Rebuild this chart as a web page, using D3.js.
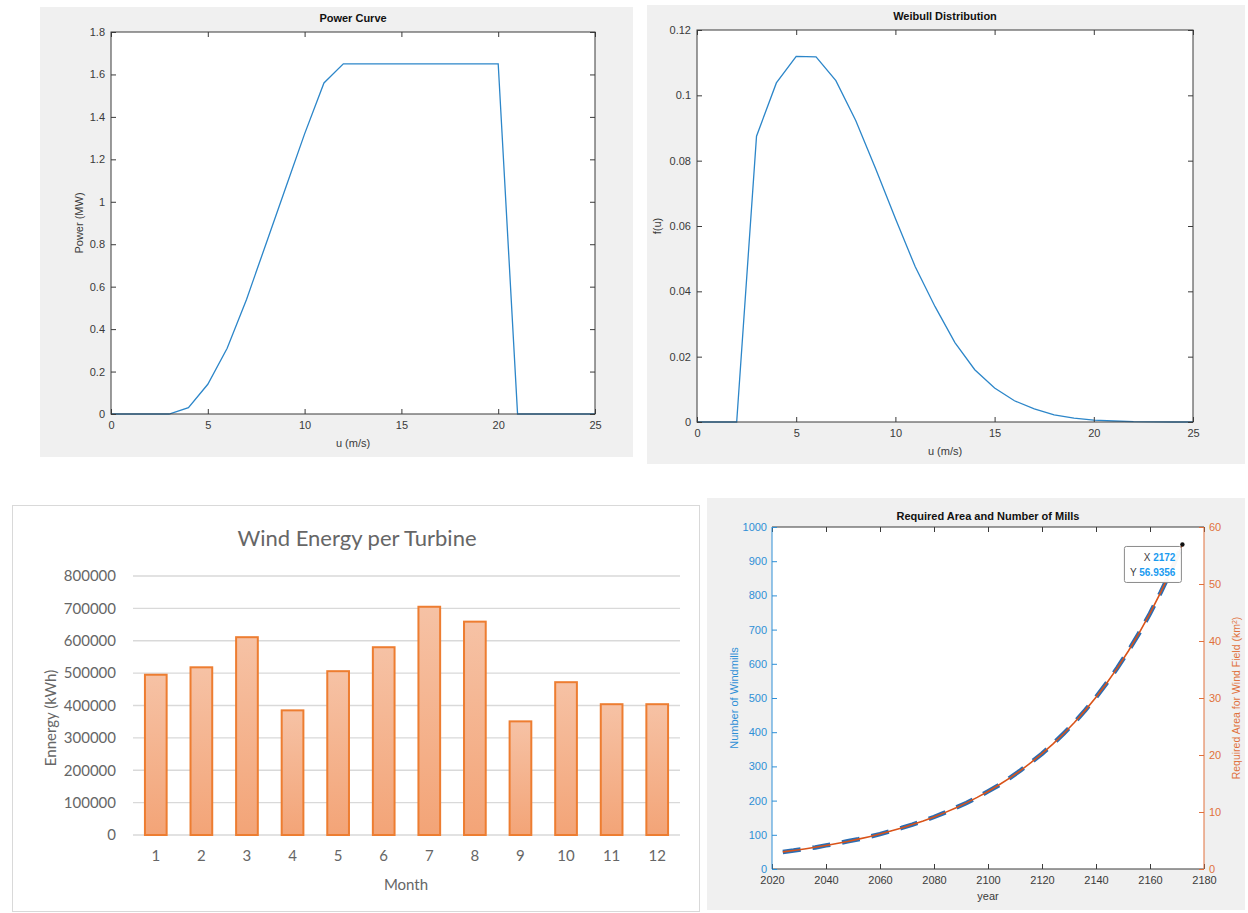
<!DOCTYPE html>
<html><head><meta charset="utf-8">
<script src="https://cdn.jsdelivr.net/npm/d3@7"></script>
<style>body{margin:0;background:#fff}svg{display:block}</style>
</head><body>
<svg id="c" width="1248" height="913"></svg>
<script>
// ---------- DATA ----------
const windSpeed = [0,1,2,3,4,5,6,7,8,9,10,11,12,13,14,15,16,17,18,19,20,21,22,23,24,25];
const powerMW   = [0,0,0,0,0.03,0.14,0.31,0.54,0.8,1.06,1.32,1.56,1.65,1.65,1.65,1.65,1.65,1.65,1.65,1.65,1.65,0,0,0,0,0];
const weibullF  = [0,0,0,0.0875,0.1038,0.1119,0.1118,0.1045,0.0923,0.0776,0.0623,0.0475,0.0353,0.0243,0.016,0.0104,0.0065,0.004,0.0022,0.0012,0.0006,0.0003,0.0001,0.00005,0,0];
const powerTicksX = [0,5,10,15,20,25];
const powerTicksY = [0,0.2,0.4,0.6,0.8,1,1.2,1.4,1.6,1.8];
const weibullTicksY = [0,0.02,0.04,0.06,0.08,0.1,0.12];

const months = [1,2,3,4,5,6,7,8,9,10,11,12];
const energyKWh = [495000,518000,611000,385000,506000,580000,705000,659000,351000,472000,404000,404000];
const energyTicks = [0,100000,200000,300000,400000,500000,600000,700000,800000];

const years = [2024,2028,2032,2036,2040,2044,2048,2052,2056,2060,2064,2068,2072,2076,2080,2084,2088,2092,2096,2100,2104,2108,2112,2116,2120,2124,2128,2132,2136,2140,2144,2148,2152,2156,2160,2164,2168,2172];
const windmills = [50,54,59,63,69,74,81,87,94,102,111,120,130,141,152,165,179,193,209,227,245,266,288,312,337,365,396,428,464,502,544,589,638,690,747,809,876,949];
const areaKm2 = [3.00,3.25,3.52,3.81,4.12,4.47,4.83,5.24,5.67,6.14,6.65,7.20,7.79,8.44,9.14,9.89,10.71,11.60,12.56,13.60,14.73,15.94,17.26,18.69,20.24,21.92,23.73,25.70,27.83,30.13,32.63,35.33,38.25,41.42,44.85,48.56,52.58,56.9356];
const yearTicks = [2020,2040,2060,2080,2100,2120,2140,2160,2180];
const millTicks = [0,100,200,300,400,500,600,700,800,900,1000];
const areaTicks = [0,10,20,30,40,50,60];
const tipX = 2172, tipY = 56.9356;

// ---------- STYLE ----------
const svg = d3.select("#c");
const MF = "'Liberation Sans', Arial, sans-serif";
const EF = "Lato, 'Open Sans', sans-serif";
const axCol = "#3a3a3a";
const lineBlue = "#2c86c9";
const mBlue = "#2e8fd6";
const mOrange = "#e0703c";
const fmt = v => String(+v.toFixed(4));

function styleAxis(g, color){
  g.select(".domain").remove();
  g.selectAll("line").attr("stroke", color).attr("stroke-width",1);
  g.selectAll("text").attr("fill", color).style("font-family", MF).style("font-size","11px");
}

function matlabPanel(cfg){
  const {bg, box, xDom, yDom, xTicks, yTicks, xs, ys, title, xlabel, ylabel, ylabelX} = cfg;
  svg.append("rect").attr("x",bg[0]).attr("y",bg[1]).attr("width",bg[2]-bg[0]).attr("height",bg[3]-bg[1]).attr("fill","#f0f0f0");
  const x = d3.scaleLinear().domain(xDom).range([box[0],box[2]]);
  const y = d3.scaleLinear().domain(yDom).range([box[3],box[1]]);
  svg.append("rect").attr("x",box[0]).attr("y",box[1]).attr("width",box[2]-box[0]).attr("height",box[3]-box[1]).attr("fill","#fff");
  const line = d3.line().x((d,i)=>x(xs[i])).y(d=>y(d));
  svg.append("path").datum(ys).attr("d",line).attr("fill","none").attr("stroke",lineBlue).attr("stroke-width",1.3);
  styleAxis(svg.append("g").attr("transform",`translate(0,${box[3]})`).call(d3.axisBottom(x).tickValues(xTicks).tickFormat(fmt).tickSizeInner(-5).tickSizeOuter(0).tickPadding(7)), axCol);
  styleAxis(svg.append("g").attr("transform",`translate(0,${box[1]})`).call(d3.axisTop(x).tickValues(xTicks).tickFormat("").tickSizeInner(-5).tickSizeOuter(0)), axCol);
  styleAxis(svg.append("g").attr("transform",`translate(${box[0]},0)`).call(d3.axisLeft(y).tickValues(yTicks).tickFormat(fmt).tickSizeInner(-5).tickSizeOuter(0).tickPadding(6)), axCol);
  styleAxis(svg.append("g").attr("transform",`translate(${box[2]},0)`).call(d3.axisRight(y).tickValues(yTicks).tickFormat("").tickSizeInner(-5).tickSizeOuter(0)), axCol);
  svg.append("rect").attr("x",box[0]).attr("y",box[1]).attr("width",box[2]-box[0]).attr("height",box[3]-box[1]).attr("fill","none").attr("stroke",axCol).attr("stroke-width",1);
  const cx = (box[0]+box[2])/2;
  svg.append("text").attr("x",cx).attr("y",box[1]-10).attr("text-anchor","middle").style("font-family",MF).style("font-size","11px").style("font-weight","bold").attr("fill","#111").text(title);
  svg.append("text").attr("x",cx).attr("y",box[3]+33).attr("text-anchor","middle").style("font-family",MF).style("font-size","11px").attr("fill",axCol).text(xlabel);
  svg.append("text").attr("transform",`translate(${ylabelX},${(box[1]+box[3])/2}) rotate(-90)`).attr("text-anchor","middle").style("font-family",MF).style("font-size","11px").attr("fill",axCol).text(ylabel);
}

// Panel 1: Power curve
matlabPanel({bg:[40,7,633,457], box:[111,32,595,414], xDom:[0,25], yDom:[0,1.8],
  xTicks:powerTicksX, yTicks:powerTicksY, xs:windSpeed, ys:powerMW,
  title:"Power Curve", xlabel:"u (m/s)", ylabel:"Power (MW)", ylabelX:83});

// Panel 2: Weibull
matlabPanel({bg:[647,5,1245,464], box:[697,30,1193,422], xDom:[0,25], yDom:[0,0.12],
  xTicks:powerTicksX, yTicks:weibullTicksY, xs:windSpeed, ys:weibullF,
  title:"Weibull Distribution", xlabel:"u (m/s)", ylabel:"f(u)", ylabelX:661});

// ---------- Panel 3: Excel bar chart ----------
(function(){
  svg.append("rect").attr("x",12.5).attr("y",505.5).attr("width",687).attr("height",406).attr("fill","#fff").attr("stroke","#d9d9d9");
  const defs = svg.append("defs");
  const gr = defs.append("linearGradient").attr("id","barGrad").attr("x1",0).attr("y1",0).attr("x2",0).attr("y2",1).attr("gradientUnits","objectBoundingBox");
  gr.append("stop").attr("offset","0%").attr("stop-color","#f6c2a5");
  gr.append("stop").attr("offset","100%").attr("stop-color","#f3a477");
  const x = d3.scaleBand().domain(months).range([133,680]).paddingInner(0.48).paddingOuter(0.24);
  const y = d3.scaleLinear().domain([0,800000]).range([835,576]);
  const grid = svg.append("g");
  grid.selectAll("line").data(energyTicks).join("line")
    .attr("x1",133).attr("x2",680).attr("y1",d=>y(d)).attr("y2",d=>y(d))
    .attr("stroke","#d9d9d9").attr("stroke-width",1.3);
  const ga = svg.append("g").attr("transform","translate(133,0)").call(d3.axisLeft(y).tickValues(energyTicks).tickSize(0).tickPadding(17).tickFormat(d3.format("d")));
  ga.select(".domain").remove();
  ga.selectAll("text").attr("fill","#666").style("font-family",EF).style("font-size","15px");
  svg.append("g").selectAll("rect").data(energyKWh).join("rect")
    .attr("x",(d,i)=>x(months[i])+1).attr("width",x.bandwidth()-2)
    .attr("y",d=>y(d)).attr("height",d=>y(0)-y(d))
    .attr("fill","url(#barGrad)").attr("stroke","#ed7d31").attr("stroke-width",2);
  const gb = svg.append("g").attr("transform","translate(0,835)").call(d3.axisBottom(x).tickSize(0).tickPadding(15));
  gb.select(".domain").remove();
  gb.selectAll("text").attr("fill","#666").style("font-family",EF).style("font-size","15px");
  svg.append("text").attr("x",357).attr("y",546).attr("text-anchor","middle").style("font-family",EF).style("font-size","22px").attr("fill","#666").text("Wind Energy per Turbine");
  svg.append("text").attr("x",406).attr("y",890).attr("text-anchor","middle").style("font-family",EF).style("font-size","15px").attr("fill","#666").text("Month");
  svg.append("text").attr("transform","translate(56,718) rotate(-90)").attr("text-anchor","middle").style("font-family",EF).style("font-size","15px").attr("fill","#666").text("Ennergy (kWh)");
})();

// ---------- Panel 4: yyaxis ----------
(function(){
  const box = [772,527,1204,869];
  svg.append("rect").attr("x",707).attr("y",498).attr("width",538).attr("height",412).attr("fill","#f0f0f0");
  svg.append("rect").attr("x",box[0]).attr("y",box[1]).attr("width",box[2]-box[0]).attr("height",box[3]-box[1]).attr("fill","#fff");
  const x = d3.scaleLinear().domain([2020,2180]).range([box[0],box[2]]);
  const yL = d3.scaleLinear().domain([0,1000]).range([box[3],box[1]]);
  const yR = d3.scaleLinear().domain([0,60]).range([box[3],box[1]]);
  svg.append("path").datum(windmills).attr("d",d3.line().x((d,i)=>x(years[i])).y(d=>yL(d)))
    .attr("fill","none").attr("stroke","#2a6db3").attr("stroke-width",4.5).attr("stroke-dasharray","18,12");
  svg.append("path").datum(areaKm2).attr("d",d3.line().x((d,i)=>x(years[i])).y(d=>yR(d)))
    .attr("fill","none").attr("stroke","#d95319").attr("stroke-width",1.6);
  styleAxis(svg.append("g").attr("transform",`translate(0,${box[3]})`).call(d3.axisBottom(x).tickValues(yearTicks).tickFormat(d3.format("d")).tickSizeInner(-5).tickSizeOuter(0).tickPadding(7)), axCol);
  styleAxis(svg.append("g").attr("transform",`translate(0,${box[1]})`).call(d3.axisTop(x).tickValues(yearTicks).tickFormat("").tickSizeInner(-5).tickSizeOuter(0)), axCol);
  svg.append("line").attr("x1",box[0]).attr("x2",box[2]).attr("y1",box[1]).attr("y2",box[1]).attr("stroke",axCol);
  svg.append("line").attr("x1",box[0]).attr("x2",box[2]).attr("y1",box[3]).attr("y2",box[3]).attr("stroke",axCol);
  const gl = svg.append("g").attr("transform",`translate(${box[0]},0)`).call(d3.axisLeft(yL).tickValues(millTicks).tickFormat(d3.format("d")).tickSizeInner(-5).tickSizeOuter(0).tickPadding(5));
  styleAxis(gl, mBlue);
  svg.append("line").attr("x1",box[0]).attr("x2",box[0]).attr("y1",box[1]).attr("y2",box[3]).attr("stroke",mBlue);
  const gr = svg.append("g").attr("transform",`translate(${box[2]},0)`).call(d3.axisRight(yR).tickValues(areaTicks).tickFormat(d3.format("d")).tickSizeInner(-5).tickSizeOuter(0).tickPadding(5));
  styleAxis(gr, mOrange);
  svg.append("line").attr("x1",box[2]).attr("x2",box[2]).attr("y1",box[1]).attr("y2",box[3]).attr("stroke",mOrange);
  const cx = (box[0]+box[2])/2;
  svg.append("text").attr("x",cx).attr("y",box[1]-7).attr("text-anchor","middle").style("font-family",MF).style("font-size","11px").style("font-weight","bold").attr("fill","#111").text("Required Area and Number of Mills");
  svg.append("text").attr("x",cx).attr("y",box[3]+31).attr("text-anchor","middle").style("font-family",MF).style("font-size","11px").attr("fill",axCol).text("year");
  svg.append("text").attr("transform",`translate(738,${(box[1]+box[3])/2}) rotate(-90)`).attr("text-anchor","middle").style("font-family",MF).style("font-size","11px").attr("fill",mBlue).text("Number of Windmills");
  const rl = svg.append("text").attr("transform",`translate(1240,${(box[1]+box[3])/2}) rotate(-90)`).attr("text-anchor","middle").style("font-family",MF).style("font-size","10.5px").attr("fill",mOrange);
  rl.append("tspan").text("Required Area for Wind Field (km");
  rl.append("tspan").attr("baseline-shift","super").style("font-size","7px").text("2");
  rl.append("tspan").text(")");
  // data tip
  const px = x(tipX), py = yR(tipY);
  svg.append("rect").attr("x",px-58).attr("y",py+2).attr("width",57).attr("height",36).attr("rx",2)
    .attr("fill","#fff").attr("fill-opacity",0.95).attr("stroke","#8a8a8a").attr("stroke-width",1);
  const t1 = svg.append("text").attr("x",px-7).attr("y",py+17).attr("text-anchor","end").style("font-family",MF).style("font-size","10px");
  t1.append("tspan").attr("fill","#404040").text("X ");
  t1.append("tspan").attr("fill","#1a9bf0").style("font-weight","bold").text(String(tipX));
  const t2 = svg.append("text").attr("x",px-7).attr("y",py+32).attr("text-anchor","end").style("font-family",MF).style("font-size","10px");
  t2.append("tspan").attr("fill","#404040").text("Y ");
  t2.append("tspan").attr("fill","#1a9bf0").style("font-weight","bold").text(String(tipY));
  svg.append("circle").attr("cx",px).attr("cy",py).attr("r",2.2).attr("fill","#111");
})();
</script>
</body></html>
